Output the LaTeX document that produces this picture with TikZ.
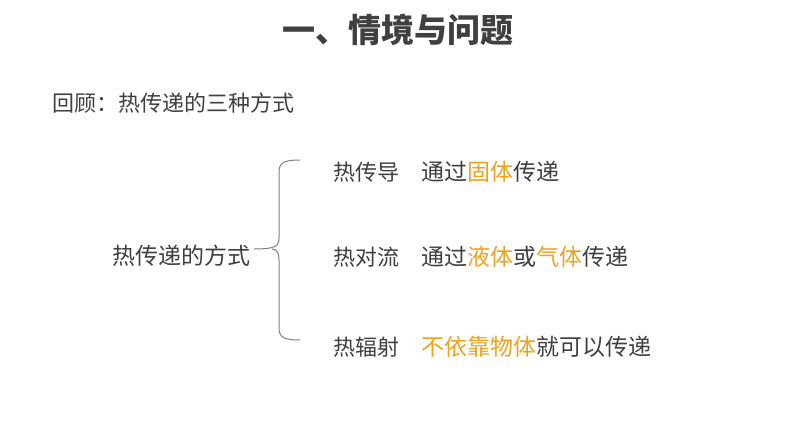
\documentclass[tikz,border=0pt]{standalone}
\usepackage{fontspec}
\setmainfont{Noto Sans CJK SC}
\definecolor{TextGray}{HTML}{404040}
\definecolor{HeatOrange}{HTML}{F0A11E}
\definecolor{BraceGray}{HTML}{808080}
\usetikzlibrary{positioning}
\newcommand{\hl}[1]{\textcolor{HeatOrange}{#1}}

\begin{document}
\begin{tikzpicture}[x=1pt, y=-1pt,
    title/.style={font=\fontsize{33}{38}\selectfont\bfseries, text=TextGray, inner sep=0pt},
    label/.style={font=\fontsize{22}{26}\selectfont, text=TextGray, inner sep=0pt, anchor=west},
    desc/.style={font=\fontsize{23}{27}\selectfont, text=TextGray, inner sep=0pt},
    brace/.style={draw=BraceGray, line width=1pt}]
  \useasboundingbox[fill=white] (0,0) rectangle (794,447);

  % Heading
  \node[title] (title) at (398,30) {一、情境与问题};
  \node[label] (recap) at (52,103) {回顾：热传递的三种方式};

  % Left term
  \node[label, font=\fontsize{23}{27}\selectfont] (ways) at (112,256) {热传递的方式};

  % Three ways of heat transfer
  \node[label] (cond) at (333,172) {热传导};
  \node[label] (conv) at (333,257) {热对流};
  \node[label] (rad) at (333,347) {热辐射};

  \node[desc, right=22pt of cond] (condtxt) {通过\hl{固体}传递};
  \node[desc, right=22pt of conv] (convtxt) {通过\hl{液体}或\hl{气体}传递};
  \node[desc, right=22pt of rad] (radtxt) {\hl{不依靠物体}就可以传递};

  % Brace
  \coordinate (btop) at (300,160);
  \coordinate (bbot) at (300,340);
  \coordinate (btip) at (254,249);
  \draw[brace] (btop) .. controls (285,160) and (279,162) .. (279,172)
    -- (279,238) .. controls (279,246) and (276,249) .. (btip);
  \draw[brace] (272,249) .. controls (276,249) and (279,252) .. (279,260)
    -- (279,328) .. controls (279,338) and (285,340) .. (bbot);
\end{tikzpicture}
\end{document}
